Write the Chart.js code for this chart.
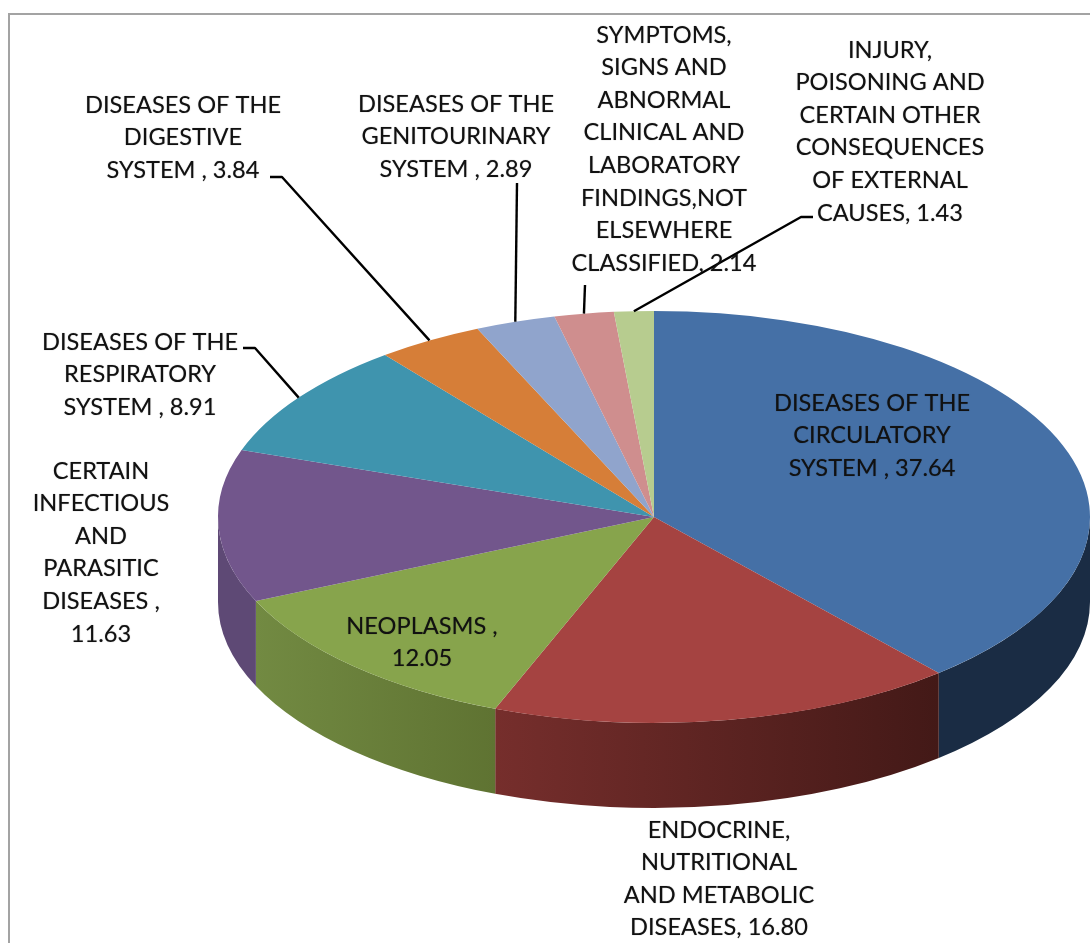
<!DOCTYPE html>
<html>
<head>
<meta charset="utf-8">
<title>Causes of death</title>
<script src="https://cdn.jsdelivr.net/npm/chart.js@4"></script>
<style>
  html, body { margin: 0; padding: 0; background: #fff; overflow: hidden; }
  /* the source is a slightly soft screenshot */
  canvas { display: block; filter: blur(0.45px); }
</style>
</head>
<body>
<canvas id="chart" width="1090" height="943"></canvas>
<script>
// Data
const categories = [
  ['DISEASES OF THE', 'CIRCULATORY', 'SYSTEM , 37.64'],
  ['ENDOCRINE,', 'NUTRITIONAL', 'AND METABOLIC', 'DISEASES, 16.80'],
  ['NEOPLASMS ,', '12.05'],
  ['CERTAIN', 'INFECTIOUS', 'AND', 'PARASITIC', 'DISEASES ,', '11.63'],
  ['DISEASES OF THE', 'RESPIRATORY', 'SYSTEM , 8.91'],
  ['DISEASES OF THE', 'DIGESTIVE', 'SYSTEM , 3.84'],
  ['DISEASES OF THE', 'GENITOURINARY', 'SYSTEM , 2.89'],
  ['SYMPTOMS,', 'SIGNS AND', 'ABNORMAL', 'CLINICAL AND', 'LABORATORY', 'FINDINGS,NOT', 'ELSEWHERE', 'CLASSIFIED, 2.14'],
  ['INJURY,', 'POISONING AND', 'CERTAIN OTHER', 'CONSEQUENCES', 'OF EXTERNAL', 'CAUSES, 1.43']
];
const values = [37.64, 16.80, 12.05, 11.63, 8.91, 3.84, 2.89, 2.14, 1.43];
const topColors = ['#4570a6', '#a54341', '#87a44c', '#72568c', '#3f94ae', '#d67e38', '#90a4cc', '#cf8e8e', '#b7cc8f'];
// side wall colours, left then right
const sideColors = [
  ['#1a2c44', '#1a2c44'], ['#762e2c', '#431917'], ['#728a42', '#5f7332'], ['#5e4975', '#5e4975'],
  ['#2d6b7e', '#2d6b7e'], ['#9c5c28', '#9c5c28'], ['#6a7894', '#6a7894'], ['#966767', '#966767'], ['#859468', '#859468']
];

// Label layout: centre x and centre y of the first line
const labelX = [872, 719, 422, 101, 140, 183, 456, 664, 890];
const labelY = [403, 830, 626, 471, 342, 105, 104, 35, 50];
const lineHeight = 32.6;
// Leader lines run from the slice rim through these points
const leaders = {
  4: [[255, 348], [243, 348]],
  5: [[282, 177], [270, 177]],
  6: [[517, 183]],
  7: [[585, 285]],
  8: [[801, 217], [813, 217]]
};

const squash = 0.4725;
const depth = 85;
const radiusX = 436;

const rimPoint = (arc, angle) => ({
  x: arc.x + Math.cos(angle) * radiusX,
  y: arc.y + Math.sin(angle) * radiusX * squash
});

const pie3d = {
  id: 'pie3d',
  beforeDraw(chart) {
    const ctx = chart.ctx;
    ctx.save();
    ctx.strokeStyle = '#a3a3a3';
    ctx.lineWidth = 2;
    ctx.strokeRect(9, 14, 1200, 1000);
    ctx.restore();
  },
  beforeDatasetsDraw(chart) {
    const ctx = chart.ctx;
    const arcs = chart.getDatasetMeta(0).data;
    ctx.save();
    // side walls, only the front half of the rim shows
    arcs.forEach((arc, i) => {
      const a0 = Math.max(arc.startAngle, 0);
      const a1 = Math.min(arc.endAngle, Math.PI);
      if (a1 <= a0) return;
      const right = rimPoint(arc, a0).x;
      const left = rimPoint(arc, a1).x;
      const grad = ctx.createLinearGradient(left, 0, right, 0);
      grad.addColorStop(0, sideColors[i][0]);
      grad.addColorStop(1, sideColors[i][1]);
      ctx.beginPath();
      ctx.ellipse(arc.x, arc.y, radiusX, radiusX * squash, 0, a0, a1);
      ctx.ellipse(arc.x, arc.y + depth, radiusX, radiusX * squash, 0, a1, a0, true);
      ctx.closePath();
      ctx.fillStyle = grad;
      ctx.fill();
    });
    ctx.restore();
    // flatten the pie itself into the ellipse
    const c = arcs[0];
    ctx.save();
    ctx.translate(c.x, c.y);
    ctx.scale(1, squash);
    ctx.translate(-c.x, -c.y);
  },
  afterDatasetsDraw(chart) {
    const ctx = chart.ctx;
    ctx.restore();
    const arcs = chart.getDatasetMeta(0).data;

    ctx.save();
    ctx.strokeStyle = '#000';
    ctx.lineWidth = 2.4;
    ctx.lineJoin = 'round';
    Object.keys(leaders).forEach(k => {
      const arc = arcs[k];
      const start = rimPoint(arc, (arc.startAngle + arc.endAngle) / 2);
      ctx.beginPath();
      ctx.moveTo(start.x, start.y);
      leaders[k].forEach(p => ctx.lineTo(p[0], p[1]));
      ctx.stroke();
    });

    ctx.fillStyle = '#111';
    ctx.shadowColor = 'rgba(0,0,0,0.45)';
    ctx.shadowBlur = 1;
    ctx.font = '23.6px Lato, "Open Sans", sans-serif';
    ctx.textAlign = 'center';
    ctx.textBaseline = 'middle';
    categories.forEach((lines, i) => {
      lines.forEach((line, j) => {
        ctx.fillText(line, labelX[i], labelY[i] + j * lineHeight);
      });
    });
    ctx.restore();
  }
};

new Chart(document.getElementById('chart'), {
  type: 'pie',
  data: {
    labels: categories.map(c => c.join(' ')),
    datasets: [{
      data: values,
      backgroundColor: topColors,
      borderWidth: 0,
      radius: radiusX
    }]
  },
  options: {
    responsive: false,
    animation: false,
    layout: { padding: { left: 218, right: 0, top: 91, bottom: 0 } },
    plugins: { legend: { display: false }, tooltip: { enabled: false } }
  },
  plugins: [pie3d]
});
</script>
</body>
</html>
